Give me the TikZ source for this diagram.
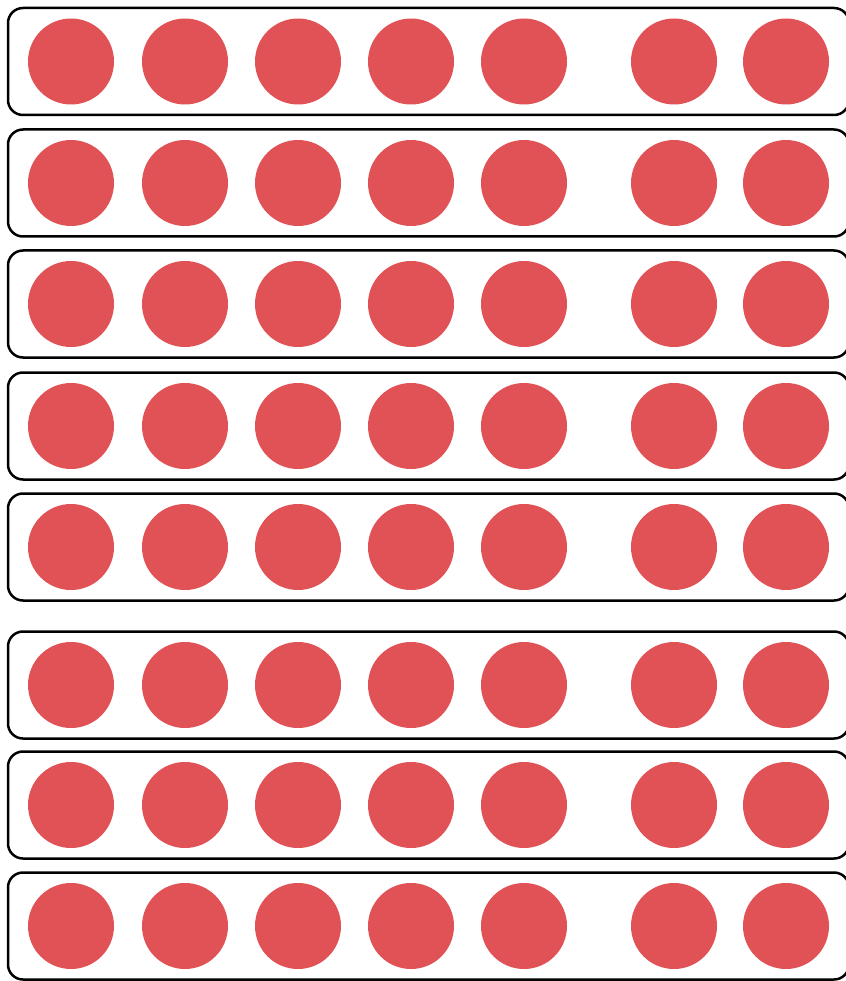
\documentclass[tikz,border=0pt]{standalone}
\usepackage{tikz}
\definecolor{dotred}{RGB}{224,82,86}

\begin{document}
\begin{tikzpicture}[x=1pt,y=-1pt]
\useasboundingbox (0,0) rectangle (845,981);
\foreach \y [count=\i] in {61.5,183,304,426,547,685,805,926} {
  \draw[line width=2.5pt, rounded corners=15pt] (8,\y-53.5) rectangle (849,\y+53.5);
  \foreach \x [count=\j] in {71,185,298,411,524,674,786} {
    \node[circle, fill=dotred, inner sep=0pt, minimum size=86pt] (dot\i\j) at (\x,\y) {};
  }
}
\end{tikzpicture}
\end{document}
